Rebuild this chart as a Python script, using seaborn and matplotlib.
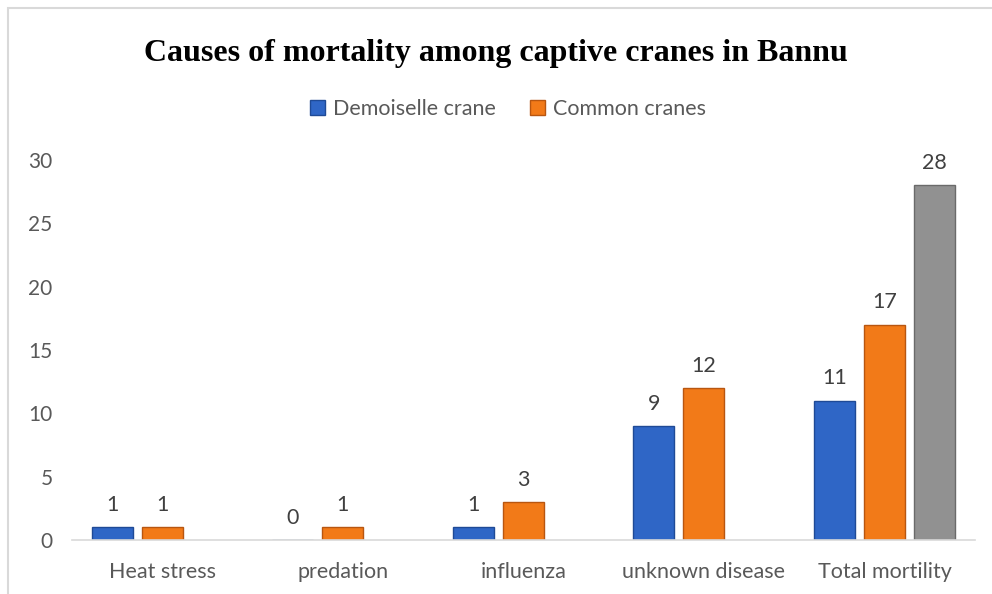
import matplotlib
matplotlib.use("Agg")
import matplotlib.pyplot as plt
import seaborn as sns
import pandas as pd
import numpy as np
from matplotlib.patches import Rectangle, Patch

categories = ["Heat stress", "predation", "influenza", "unknown disease", "Total mortility"]
demoiselle = [1, 0, 1, 9, 11]
common = [1, 1, 3, 12, 17]
total = [np.nan, np.nan, np.nan, np.nan, 28]
series_names = ["Demoiselle crane", "Common cranes", "Total"]
colors = ["#2f66c6", "#f27a18", "#919191"]
edge_colors = ["#1f4a96", "#b85610", "#6a6a6a"]

rows = []
for name, vals in zip(series_names, [demoiselle, common, total]):
    for c, v in zip(categories, vals):
        rows.append({"cause": c, "series": name, "value": v})
df = pd.DataFrame(rows)

sns.set_theme(style="white")
plt.rcParams['font.family'] = ['Lato', 'DejaVu Sans']

fig = plt.figure(figsize=(9.92, 5.94), dpi=100)
ax = fig.add_axes([0.0726, 0.0909, 0.910, 0.6397])

sns.barplot(data=df, x="cause", y="value", hue="series", order=categories,
            hue_order=series_names, palette=colors, width=0.833, gap=0.18,
            ax=ax, legend=False, saturation=1, err_kws={'linewidth': 0})

for i, cont in enumerate(ax.containers):
    for bar in cont:
        bar.set_edgecolor(edge_colors[i])
        bar.set_linewidth(1.0)
    labels = []
    for v in cont.datavalues:
        labels.append("" if np.isnan(v) else f"{int(v)}")
    ax.bar_label(cont, labels=labels, padding=9, fontsize=15.5, color="#404040")

ax.set_xlim(-0.5, 4.5)
ax.set_ylim(0, 30)
ax.set_yticks(range(0, 31, 5))
ax.set_xlabel("")
ax.set_ylabel("")
for s in ["top", "right", "left"]:
    ax.spines[s].set_visible(False)
ax.spines["bottom"].set_color("#d9d9d9")
ax.spines["bottom"].set_linewidth(1.2)
ax.tick_params(axis="both", length=0, colors="#595959")
ax.tick_params(axis="x", pad=16, labelsize=15.5)
ax.tick_params(axis="y", pad=14, labelsize=15)

fig.text(0.5, 0.91, "Causes of mortality among captive cranes in Bannu",
         ha="center", va="center", fontsize=23, fontweight="bold",
         family="Liberation Serif", color="#000000")

handles = [Patch(facecolor=colors[0], edgecolor=edge_colors[0]),
           Patch(facecolor=colors[1], edgecolor=edge_colors[1])]
fig.legend(handles, series_names[:2], loc="center", bbox_to_anchor=(0.512, 0.816),
           ncol=2, frameon=False, fontsize=15.5, handlelength=0.7, handleheight=0.7,
           handletextpad=0.35, columnspacing=1.6, labelcolor="#595959")

fig.patches.append(Rectangle((8 / 992, -0.1), 1.2, 1.1 - 8 / 594,
                             transform=fig.transFigure, fill=False,
                             edgecolor="#d9d9d9", linewidth=1.5))

fig.savefig("out.png", dpi=100, facecolor="white")
